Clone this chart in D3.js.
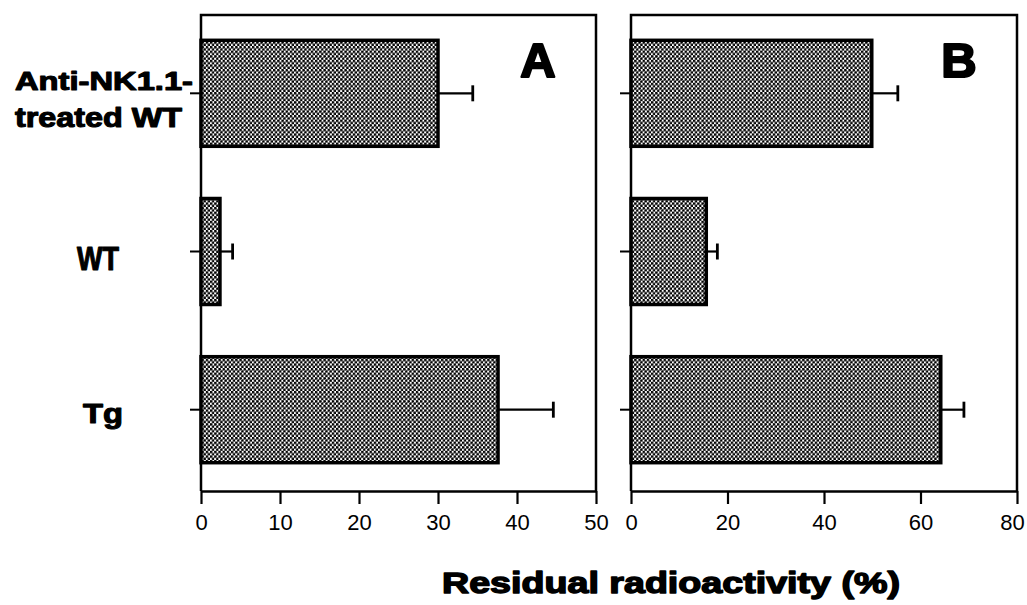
<!DOCTYPE html>
<html>
<head>
<meta charset="utf-8">
<script src="https://cdn.jsdelivr.net/npm/d3@7"></script>
<style>
  body { margin: 0; background: #fff; }
  svg { display: block; }
</style>
</head>
<body>
<script>
'use strict';

// categories and values
const groups = ["Anti-NK1.1-treated WT", "WT", "Tg"];
const panelNames = ["A", "B"];
const valuesA = [30.0, 2.4, 37.6];
const errorsA = [4.4, 1.6, 7.0];
const valuesB = [49.9, 15.6, 64.2];
const errorsB = [5.4, 2.3, 4.8];
const ticksA = [0, 10, 20, 30, 40, 50];
const ticksB = [0, 20, 40, 60, 80];

(function() {

  let svgContainer = "";

  window.onload = function() {
    svgContainer = d3.select('body')
      .append('svg')
      .attr('width', 1027)
      .attr('height', 605);

    makePattern();

    // shared vertical scale for the three groups
    let yScale = d3.scaleBand()
      .domain(groups)
      .range([15, 488])
      .paddingInner(0.33)
      .paddingOuter(0.16);

    drawPanel(valuesA, errorsA, ticksA, panelNames[0], 201, 596, yScale);
    drawPanel(valuesB, errorsB, ticksB, panelNames[1], 631, 1017, yScale);

    makeLabels();
  }

  // stipple fill of the bars
  function makePattern() {
    let pat = svgContainer.append('defs')
      .append('pattern')
      .attr('id', 'dots')
      .attr('patternUnits', 'userSpaceOnUse')
      .attr('width', 4.2)
      .attr('height', 4.6);
    pat.append('rect').attr('width', 4.2).attr('height', 4.6).attr('fill', '#fff');
    pat.append('circle').attr('cx', 1.05).attr('cy', 1.15).attr('r', 1.4).attr('fill', '#000');
    pat.append('circle').attr('cx', 3.15).attr('cy', 3.45).attr('r', 1.4).attr('fill', '#000');
  }

  function drawPanel(values, errors, ticks, name, x1, x2, yScale) {
    let top = 15, bottom = 491;
    let g = svgContainer.append('g');

    let xScale = d3.scaleLinear()
      .domain([0, d3.max(ticks)])
      .range([x1, x2]);

    // frame (top, left, right)
    g.append('path')
      .attr('d', 'M' + x1 + ',' + bottom + 'V' + top + 'H' + x2 + 'V' + bottom)
      .attr('fill', 'none')
      .attr('stroke', '#000')
      .attr('stroke-width', 2.5);

    // x axis at the bottom
    let xAxis = d3.axisBottom(xScale)
      .tickValues(ticks)
      .tickSize(13)
      .tickPadding(10)
      .tickSizeOuter(0);
    let ax = g.append('g')
      .attr('transform', 'translate(0,' + bottom + ')')
      .call(xAxis);
    ax.select('.domain').attr('stroke-width', 2.5);
    ax.selectAll('.tick line').attr('stroke-width', 2.2);
    ax.selectAll('.tick text')
      .attr('fill', '#000')
      .attr('dx', (d) => d == d3.max(ticks) && x2 > 1000 ? -5 : 0)
      .style('font-family', '"Liberation Sans Narrow", "Liberation Sans", Arial, sans-serif')
      .style('font-size', '22px');

    // short ticks on the left for each group
    let yAxis = d3.axisLeft(yScale).tickSize(11).tickFormat('');
    let ay = g.append('g')
      .attr('transform', 'translate(' + x1 + ',0)')
      .call(yAxis);
    ay.select('.domain').remove();
    ay.selectAll('.tick line').attr('stroke-width', 2);

    // bars
    g.selectAll('.bar')
      .data(values)
      .enter()
      .append('rect')
      .attr('x', xScale(0))
      .attr('y', (d, i) => yScale(groups[i]))
      .attr('width', (d) => xScale(d) - xScale(0))
      .attr('height', yScale.bandwidth())
      .attr('fill', 'url(#dots)')
      .attr('stroke', '#000')
      .attr('stroke-width', 3.5);

    // error bars (one-sided)
    let cy = (i) => yScale(groups[i]) + yScale.bandwidth() / 2;
    g.selectAll('.err')
      .data(values)
      .enter()
      .append('line')
      .attr('x1', (d) => xScale(d))
      .attr('x2', (d, i) => xScale(d + errors[i]))
      .attr('y1', (d, i) => cy(i))
      .attr('y2', (d, i) => cy(i))
      .attr('stroke', '#000')
      .attr('stroke-width', 2.2);
    g.selectAll('.cap')
      .data(values)
      .enter()
      .append('line')
      .attr('x1', (d, i) => xScale(d + errors[i]))
      .attr('x2', (d, i) => xScale(d + errors[i]))
      .attr('y1', (d, i) => cy(i) - 8)
      .attr('y2', (d, i) => cy(i) + 8)
      .attr('stroke', '#000')
      .attr('stroke-width', 2.8);

    // panel letter
    g.append('text')
      .attr('x', x2 - 58)
      .attr('y', 77)
      .attr('text-anchor', 'middle')
      .style('font-family', '"Liberation Sans", Arial, sans-serif')
      .style('font-weight', 'bold')
      .style('font-size', '49px')
      .attr('stroke', '#000')
      .attr('stroke-width', 2.2)
      .attr('stroke-linejoin', 'round')
      .text(name);
  }

  // group names and axis title
  function makeLabels() {
    let font = '"Liberation Sans", Arial, sans-serif';
    let rows = [
      { t: "Anti-NK1.1-", x: 15, y: 90, size: 26, len: 178 },
      { t: "treated WT", x: 15, y: 127, size: 27, len: 167 },
      { t: groups[1], x: 77, y: 270, size: 33, len: 42 },
      { t: groups[2], x: 83, y: 423, size: 28, len: 40 }
    ];
    svgContainer.selectAll('.glabel')
      .data(rows)
      .enter()
      .append('text')
      .attr('x', (d) => d.x)
      .attr('y', (d) => d.y)
      .attr('textLength', (d) => d.len)
      .attr('lengthAdjust', 'spacingAndGlyphs')
      .style('font-family', font)
      .style('font-weight', 'bold')
      .style('font-size', (d) => d.size + 'px')
      .attr('stroke', '#000')
      .attr('stroke-width', 1.1)
      .attr('stroke-linejoin', 'round')
      .text((d) => d.t);

    svgContainer.append('text')
      .attr('x', 442)
      .attr('y', 593)
      .attr('textLength', 458)
      .attr('lengthAdjust', 'spacingAndGlyphs')
      .style('font-family', font)
      .style('font-weight', 'bold')
      .style('font-size', '29px')
      .attr('stroke', '#000')
      .attr('stroke-width', 1.4)
      .attr('stroke-linejoin', 'round')
      .text('Residual radioactivity (%)');
  }

})();
</script>
</body>
</html>
